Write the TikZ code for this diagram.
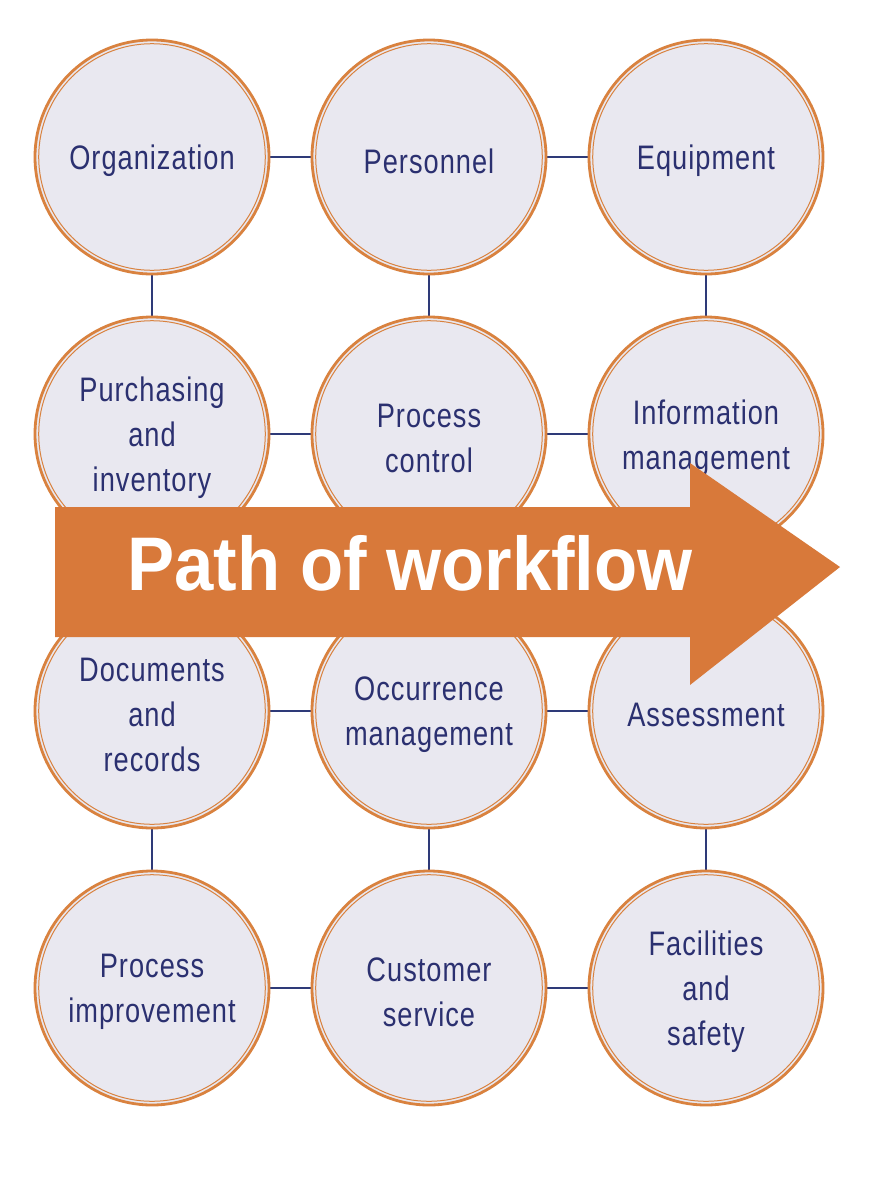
\documentclass[tikz,border=0pt]{standalone}
\usepackage{fontspec}
\newfontfamily\condfont[FakeStretch=0.8,LetterSpace=3]{Liberation Sans}
\newfontfamily\boldfont[FakeStretch=0.93]{Liberation Sans Bold}
\definecolor{ringorange}{HTML}{D9823F}
\definecolor{arroworange}{HTML}{D8793A}
\definecolor{circfill}{HTML}{E9E8F0}
\definecolor{navy}{HTML}{2B3070}
\definecolor{linknavy}{HTML}{2E3A78}
\tikzset{
  topic/.style={circle, draw=ringorange, line width=2.8pt, fill=circfill,
    minimum size=234pt, inner sep=0pt},
  topictext/.style={align=center, text=navy, inner sep=0pt, yshift=-4pt,
    font=\condfont\fontsize{34}{45}\selectfont},
  innerring/.style={draw=ringorange, line width=1pt},
  link/.style={draw=linknavy, line width=2.3pt},
  flowarrow/.style={fill=arroworange, draw=none}
}
\begin{document}
\begin{tikzpicture}[x=1pt,y=-1pt]
\useasboundingbox (0,0) rectangle (876,1200);
\fill[white] (0,0) rectangle (876,1200);
% centres
\coordinate (p11) at (152,157); \coordinate (p12) at (429,157); \coordinate (p13) at (706,157);
\coordinate (p21) at (152,434); \coordinate (p22) at (429,434); \coordinate (p23) at (706,434);
\coordinate (p31) at (152,711); \coordinate (p32) at (429,711); \coordinate (p33) at (706,711);
\coordinate (p41) at (152,988); \coordinate (p42) at (429,988); \coordinate (p43) at (706,988);
% connectors (behind circles)
\foreach \r in {1,2,3,4}{
  \draw[link] (p\r1) -- (p\r2);
  \draw[link] (p\r2) -- (p\r3);
}
\foreach \c in {1,2,3}{
  \draw[link] (p1\c) -- (p2\c);
  \draw[link] (p3\c) -- (p4\c);
}
% circles
\foreach \n in {11,12,13,21,22,23,31,32,33,41,42,43}{
  \node[topic] (c\n) at (p\n) {};
  \draw[innerring] (c\n.center) circle (113.3pt);
}
% texts
\node[topictext] (t11) at (p11) {Organization};
\node[topictext] (t12) at (p12) {Personnel};
\node[topictext] (t13) at (p13) {Equipment};
\node[topictext] (t21) at (p21) {Purchasing\\and\\inventory};
\node[topictext] (t22) at (p22) {Process\\control};
\node[topictext] (t23) at (p23) {Information\\management};
\node[topictext] (t31) at (p31) {Documents\\and\\records};
\node[topictext] (t32) at (p32) {Occurrence\\management};
\node[topictext] (t33) at (p33) {Assessment};
\node[topictext] (t41) at (p41) {Process\\improvement};
\node[topictext] (t42) at (p42) {Customer\\service};
\node[topictext] (t43) at (p43) {Facilities\\and\\safety};
% arrow
\fill[flowarrow] (55,507) -- (690,507) -- (690,463) -- (840,567) -- (690,685) -- (690,637) -- (55,637) -- cycle;
\node[text=white, font=\boldfont\fontsize{76}{80}\selectfont, anchor=base] (flow) at (410,590) {Path of workflow};
\end{tikzpicture}
\end{document}
